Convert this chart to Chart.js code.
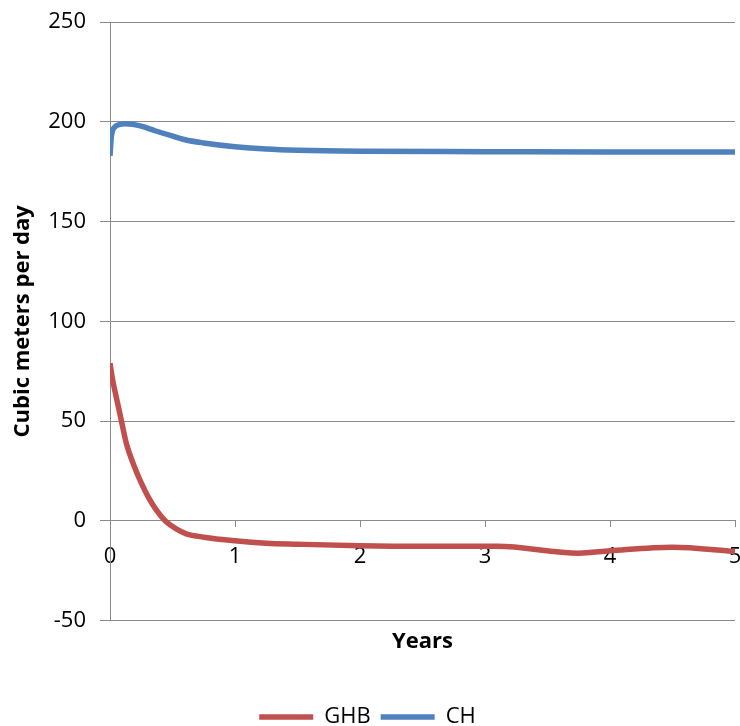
<!DOCTYPE html>
<html>
<head>
<meta charset="utf-8">
<script src="https://cdn.jsdelivr.net/npm/chart.js@4/dist/chart.umd.min.js"></script>
<style>
    html, body { margin: 0; padding: 0; background: #fff; }
</style>
</head>
<body>
<canvas id="flowChart" width="740" height="726"></canvas>
<script>
// Series (years, cubic meters per day)
const ghbYears = [0, 0.02, 0.05, 0.09, 0.13, 0.19, 0.25, 0.31, 0.37, 0.45, 0.53, 0.61, 0.75, 1.0, 1.25, 1.5, 2.0, 2.5, 3.1, 3.75, 4.0, 4.5, 5.0];
const ghbFlow = [79, 71, 62, 50.5, 39, 28, 19, 11.5, 5.5, -0.5, -4, -6.5, -8.2, -10, -11.2, -11.7, -12.5, -12.8, -12.8, -16.2, -15, -13.2, -15.3];

const chYears = [0, 0.01, 0.02, 0.04, 0.08, 0.12, 0.18, 0.25, 0.36, 0.49, 0.6, 0.75, 1.0, 1.25, 1.5, 2.0, 3.0, 4.0, 5.0];
const chFlow = [183, 192, 195.5, 197.5, 198.7, 199, 198.7, 197.8, 195.5, 193, 191, 189.4, 187.5, 186.3, 185.7, 185.2, 185, 184.8, 184.8];

const FONT = '"Open Sans", sans-serif';
const GRID = '#8a8a8a';

const toPoints = (xs, ys) => xs.map((x, i) => ({ x: x, y: ys[i] }));

// The x axis sits on y = 0, so its name is drawn under the plot area by hand
const xTitlePlugin = {
    id: 'xTitle',
    afterDraw(chart) {
        const { ctx, chartArea } = chart;
        ctx.save();
        ctx.font = 'bold 22px ' + FONT;
        ctx.fillStyle = '#000';
        ctx.textAlign = 'center';
        ctx.textBaseline = 'middle';
        ctx.fillText('Years', (chartArea.left + chartArea.right) / 2, chartArea.bottom + 21);
        ctx.restore();
    }
};

const ctx = document.getElementById('flowChart').getContext('2d');
new Chart(ctx, {
    type: 'line',
    data: {
        datasets: [{
            label: 'GHB',
            data: toPoints(ghbYears, ghbFlow),
            borderColor: '#C0504D',
            backgroundColor: '#C0504D',
            borderWidth: 5.5,
            pointRadius: 0,
            cubicInterpolationMode: 'monotone'
        }, {
            label: 'CH',
            data: toPoints(chYears, chFlow),
            borderColor: '#4F81BD',
            backgroundColor: '#4F81BD',
            borderWidth: 5.5,
            pointRadius: 0,
            cubicInterpolationMode: 'monotone'
        }]
    },
    options: {
        responsive: false,
        animation: false,
        layout: { padding: { top: 22, right: 5, bottom: -12, left: 0 } },
        scales: {
            x: {
                type: 'linear',
                min: 0,
                max: 5,
                position: { y: 0 },
                border: { color: GRID, width: 1 },
                grid: { drawOnChartArea: false, drawTicks: true, tickLength: 6, color: GRID },
                ticks: { stepSize: 1, color: '#000', padding: 17, font: { family: FONT, size: 22 } },
                afterFit(scale) { scale.paddingLeft = 0; scale.paddingRight = 0; }
            },
            y: {
                min: -50,
                max: 250,
                border: { color: GRID, width: 1 },
                grid: { color: GRID, tickLength: 10 },
                ticks: { stepSize: 50, color: '#000', padding: 14, font: { family: FONT, size: 22 } },
                title: {
                    display: true,
                    text: 'Cubic meters per day',
                    color: '#000',
                    font: { family: FONT, size: 22, weight: 'bold' },
                    padding: { top: 10, bottom: 0 }
                },
                afterFit(scale) {
                    scale.width = 110;
                    scale.paddingTop = 0;
                    scale.paddingBottom = 0;
                }
            }
        },
        plugins: {
            legend: {
                position: 'bottom',
                // blank title only keeps room for "Years" above the legend row
                title: {
                    display: true,
                    text: ' ',
                    font: { family: FONT, size: 22, weight: 'bold' },
                    padding: { top: 10, bottom: 39 }
                },
                labels: {
                    usePointStyle: true,
                    pointStyle: 'line',
                    pointStyleWidth: 54,
                    boxHeight: 10,
                    color: '#000',
                    padding: 10,
                    font: { family: FONT, size: 22 }
                }
            },
            tooltip: { enabled: false }
        }
    },
    plugins: [xTitlePlugin]
});
</script>
</body>
</html>
